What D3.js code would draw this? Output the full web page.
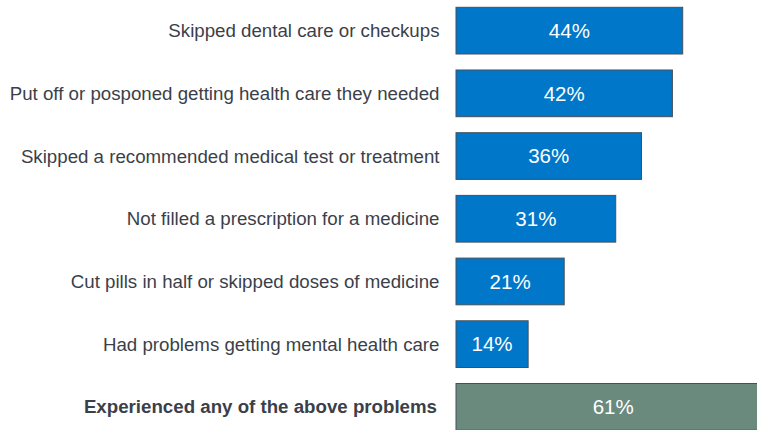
<!DOCTYPE html>
<html>
<head>
<meta charset="utf-8">
<script src="https://cdn.jsdelivr.net/npm/d3@7"></script>
<style>
  html, body { margin: 0; padding: 0; background: #ffffff; }
  svg { display: block; }
</style>
</head>
<body>
<svg id="chart" width="757" height="430"></svg>
<script>
const categories = [
  "Skipped dental care or checkups",
  "Put off or posponed getting health care they needed",
  "Skipped a recommended medical test or treatment",
  "Not filled a prescription for a medicine",
  "Cut pills in half or skipped doses of medicine",
  "Had problems getting mental health care",
  "Experienced any of the above problems"
];
const values = [44, 42, 36, 31, 21, 14, 61];
const valueLabels = ["44%", "42%", "36%", "31%", "21%", "14%", "61%"];
const isTotal = [false, false, false, false, false, false, true];

const svg = d3.select("#chart");

const x = d3.scaleLinear().domain([0, 61]).range([456, 770.3]);
const y = d3.scaleBand().domain(categories).range([-0.7, 438.2])
  .paddingInner(0.255).paddingOuter(0.1275);

const blue = "#0077C8", green = "#6A8A7E", strokeC = "#44505c", textC = "#3b3f4a";

const rows = categories.map((c, i) => ({c, v: values[i], lab: valueLabels[i], total: isTotal[i]}));

const g = svg.append("g");

g.selectAll("rect.bar").data(rows).join("rect")
  .attr("class", "bar")
  .attr("x", x(0))
  .attr("y", d => y(d.c))
  .attr("width", d => x(d.v) - x(0))
  .attr("height", y.bandwidth())
  .attr("fill", d => d.total ? green : blue)
  .attr("stroke", strokeC)
  .attr("stroke-width", 1);

g.selectAll("text.val").data(rows).join("text")
  .attr("class", "val")
  .attr("x", d => (x(0) + x(d.v)) / 2)
  .attr("y", d => y(d.c) + y.bandwidth() / 2)
  .attr("dy", "0.35em")
  .attr("text-anchor", "middle")
  .attr("fill", "#ffffff")
  .style("font-family", "Arial, 'Liberation Sans', sans-serif")
  .style("font-size", "20.5px")
  .text(d => d.lab);

g.selectAll("text.cat").data(rows).join("text")
  .attr("class", "cat")
  .attr("x", d => d.total ? 437 : 439.5)
  .attr("y", d => y(d.c) + y.bandwidth() / 2)
  .attr("dy", "0.35em")
  .attr("text-anchor", "end")
  .attr("fill", textC)
  .style("font-family", "Arial, 'Liberation Sans', sans-serif")
  .style("font-size", "18.7px")
  .style("font-weight", d => d.total ? "bold" : "normal")
  .text(d => d.c);
</script>
</body>
</html>
